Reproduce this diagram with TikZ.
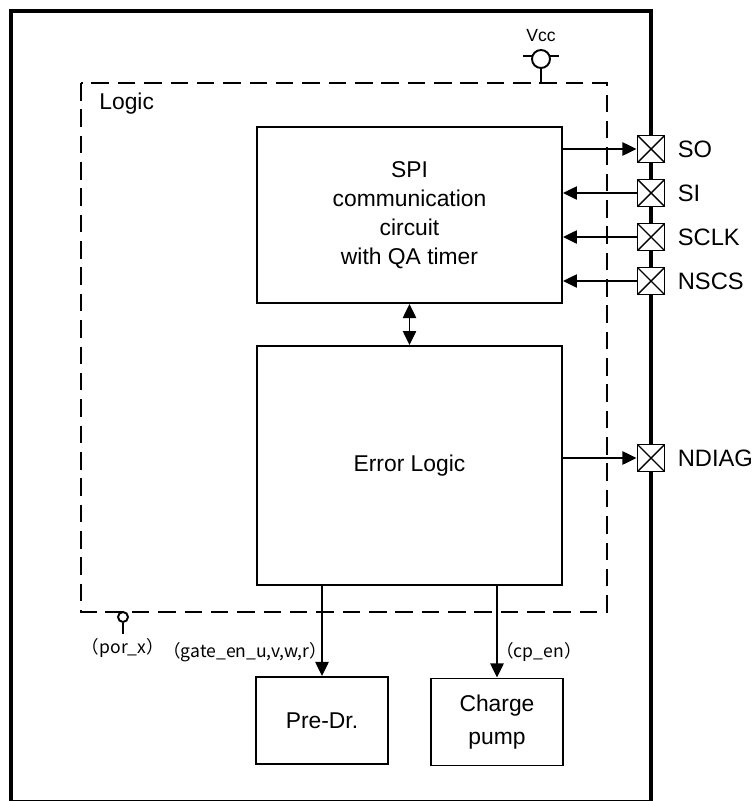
\documentclass[tikz,border=0pt]{standalone}
\usepackage{fontspec}
\setmainfont{Liberation Sans}
\newfontfamily\jpfont{Noto Sans CJK JP}
\usepackage{tikz}
\usetikzlibrary{positioning,calc}
\usetikzlibrary{arrows.meta}
\tikzset{blk/.style={draw=black,line width=1.1pt,fill=white,align=center,inner sep=0pt,font=\fontsize{13}{16.5}\selectfont}, pin/.style={draw=black,line width=1.1pt,fill=white,minimum size=0.54cm,inner sep=0pt,path picture={\draw[line width=0.8pt] (path picture bounding box.north west) -- (path picture bounding box.south east) (path picture bounding box.south west) -- (path picture bounding box.north east);}}, pinlab/.style={inner sep=0pt,font=\fontsize{13.5}{16}\selectfont}, sig/.style={line width=1.1pt,-{Triangle[length=8pt,width=7.5pt]}}, sml/.style={inner sep=0pt,font=\jpfont\fontsize{10}{12}\selectfont}, term/.style={circle,draw=black,line width=1.1pt,fill=white,inner sep=0pt}}

\begin{document}
\begin{tikzpicture}[x=0.02cm,y=-0.02cm]
\useasboundingbox (0,0) rectangle (756,801);
% chip outline and logic area
\draw[line width=2pt] (11,11) rectangle (651,802);
\draw[line width=1.1pt,dash pattern=on 10pt off 5pt] (81,83) rectangle (607,612);
\node[anchor=west,inner sep=0pt,font=\fontsize{13}{16}\selectfont] (logiclab) at (99,104) {Logic};
% supply
\node[term,minimum size=0.36cm] (vcc) at (541,59) {};
\node[font=\fontsize{10}{11}\selectfont,inner sep=0pt] (vcclab) at (541,36) {Vcc};
\coordinate (vcctap) at (541,83);
\draw[line width=1.1pt] (vcc.south) -- (vcctap);
\draw[line width=1.1pt] (vcc.160) -- ++(-9,0);
\draw[line width=1.1pt] (vcc.20) -- ++(9,0);
% blocks
\node[blk,minimum width=6.1cm,minimum height=3.52cm] (spi) at (409.5,215) {SPI\\communication\\circuit\\with QA timer};
\node[blk,minimum width=6.1cm,minimum height=4.78cm] (err) at (409.5,465.5) {Error Logic};
\node[blk,minimum width=2.64cm,minimum height=1.74cm] (pre) at (322,720.5) {Pre-Dr.};
\node[blk,minimum width=2.64cm,minimum height=1.74cm,font=\fontsize{13}{19}\selectfont] (cp) at (497,722) {Charge\\pump};
% pins
\node[pin] (so) at (651,149) {};
\node[pin] (si) at (651,193) {};
\node[pin] (sclk) at (651,237) {};
\node[pin] (nscs) at (651,281) {};
\node[pin] (ndiag) at (651,458) {};
\node[pinlab,right=0.24cm of so] (solab) {SO};
\node[pinlab,right=0.24cm of si] (silab) {SI};
\node[pinlab,right=0.24cm of sclk] (sclklab) {SCLK};
\node[pinlab,right=0.24cm of nscs] (nscslab) {NSCS};
\node[pinlab,right=0.24cm of ndiag] (ndiaglab) {NDIAG};
% signals
\draw[sig] (spi.east |- so) -- (so.west);
\draw[sig] (si.west) -- (spi.east |- si);
\draw[sig] (sclk.west) -- (spi.east |- sclk);
\draw[sig] (nscs.west) -- (spi.east |- nscs);
\draw[sig] (err.east |- ndiag) -- (ndiag.west);
\draw[line width=1.1pt,{Triangle[length=8pt,width=7.5pt]}-{Triangle[length=8pt,width=7.5pt]}] (spi.south) -- (err.north);
\draw[sig] (err.south -| pre.north) -- (pre.north);
\draw[sig] (err.south -| cp.north) -- (cp.north);
% reset input
\node[term,minimum size=0.2cm] (por) at (123,617) {};
\coordinate (porend) at (123,634);
\draw[line width=1.1pt] (por.south) -- (porend);
\node[sml] (porlab) at (123,648) {（por\_x）};
\node[sml,anchor=east] (gatelab) at (327,652) {（gate\_en\_u,v,w,r）};
\node[sml,anchor=west] (cplab) at (496,652) {（cp\_en）};
\end{tikzpicture}
\end{document}
